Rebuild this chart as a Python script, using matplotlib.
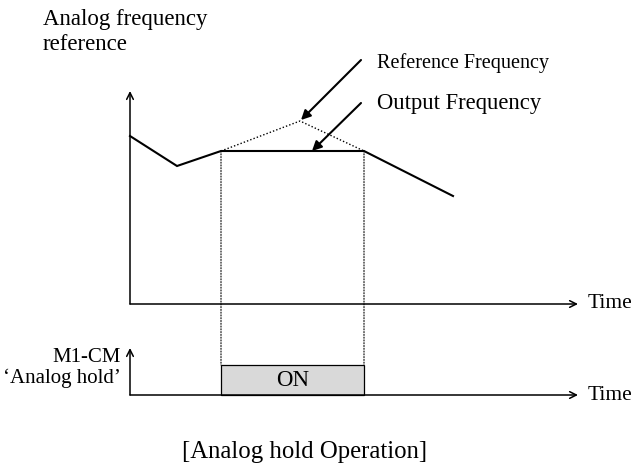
import matplotlib
matplotlib.use('Agg')
import matplotlib.pyplot as plt
from matplotlib.patches import Rectangle, ConnectionPatch

plt.rcParams['font.family'] = ['Liberation Serif', 'DejaVu Serif']

# Output frequency (time, freq) - arbitrary units
time_out = [0.0, 4.7, 9.1, 23.4, 32.3]
freq_out = [16.8, 13.8, 15.3, 15.3, 10.8]
# Reference frequency while analog hold is active
time_ref = [9.1, 17.0, 23.4]
freq_ref = [15.3, 18.3, 15.3]
# Analog hold (M1-CM) ON interval
hold_on, hold_off = 9.1, 23.4
hold_level = 3.0
t_max, f_max, sig_max = 44.8, 21.3, 4.7

W, H = 635, 468
fig = plt.figure(figsize=(W / 100, H / 100), dpi=100)


def box(x0, y0, x1, y1):
    # pixel box (top-left origin) -> figure fraction rect
    return [x0 / W, 1 - y1 / H, (x1 - x0) / W, (y1 - y0) / H]


def fx(x, y):
    return x / W, 1 - y / H


ax1 = fig.add_axes(box(130, 91, 578, 304))
ax2 = fig.add_axes(box(130, 348, 578, 395))
for ax in (ax1, ax2):
    ax.set_axis_off()
ax1.set_xlim(0, t_max)
ax1.set_ylim(0, f_max)
ax2.set_xlim(0, t_max)
ax2.set_ylim(0, sig_max)

axis_arrow = dict(arrowstyle='->', lw=1.1, color='black', shrinkA=0, shrinkB=0,
                  mutation_scale=12)
# upper axes arrows
ax1.annotate('', xy=(t_max, 0), xytext=(0, 0), arrowprops=axis_arrow,
             annotation_clip=False)
ax1.annotate('', xy=(0, f_max), xytext=(0, 0), arrowprops=axis_arrow,
             annotation_clip=False)
# lower axes arrows
ax2.annotate('', xy=(t_max, 0), xytext=(0, 0), arrowprops=axis_arrow,
             annotation_clip=False)
ax2.annotate('', xy=(0, sig_max), xytext=(0, 0), arrowprops=axis_arrow,
             annotation_clip=False)

ax1.plot(time_out, freq_out, color='black', lw=1.5, solid_joinstyle='miter',
         clip_on=False)
ax1.plot(time_ref, freq_ref, color='black', lw=1.0, linestyle=(0, (1, 1.5)),
         clip_on=False)

# pointer arrows
ptr = dict(arrowstyle='-|>', lw=1.5, color='black', shrinkA=0, shrinkB=0,
           mutation_scale=14)
ax1.annotate('', xy=(17.1, 18.4), xytext=(23.1, 24.4), arrowprops=ptr,
             annotation_clip=False)
ax1.annotate('', xy=(18.2, 15.3), xytext=(23.1, 20.1), arrowprops=ptr,
             annotation_clip=False)

# hold box
ax2.add_patch(Rectangle((hold_on, 0), hold_off - hold_on, hold_level,
                        facecolor='#d9d9d9', edgecolor='black', lw=0.9,
                        clip_on=False))
ax2.text((hold_on + hold_off) / 2, hold_level / 2, 'ON', ha='center',
         va='center', fontsize=16.5)

# dotted guides linking hold edges
for t in (hold_on, hold_off):
    con = ConnectionPatch(xyA=(t, freq_ref[0]), coordsA=ax1.transData,
                          xyB=(t, hold_level), coordsB=ax2.transData,
                          linestyle=(0, (1, 1.5)), lw=0.8, color='black')
    fig.add_artist(con)

# texts
fig.text(*fx(43, 20), 'Analog frequency', fontsize=16.5, va='center')
fig.text(*fx(43, 45), 'reference', fontsize=16.5, va='center')
fig.text(*fx(377, 63), 'Reference Frequency', fontsize=14.5, va='center')
fig.text(*fx(377, 103), 'Output Frequency', fontsize=16.3, va='center')
fig.text(*fx(588, 303), 'Time', fontsize=15.5, va='center')
fig.text(*fx(588, 395), 'Time', fontsize=15.5, va='center')
fig.text(*fx(121, 357), 'M1-CM', fontsize=15, va='center', ha='right')
fig.text(*fx(121, 378), '\u2018Analog hold\u2019', fontsize=15, va='center',
         ha='right')
fig.text(*fx(305, 452), '[Analog hold Operation]', fontsize=17.8, va='center',
         ha='center')

fig.savefig('out.png', dpi=100)
